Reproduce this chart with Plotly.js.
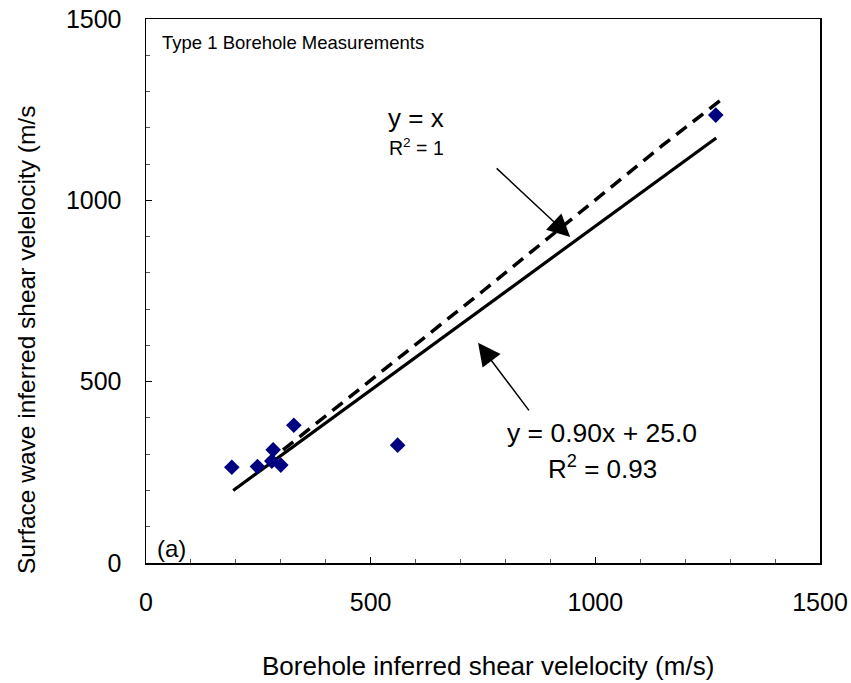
<!DOCTYPE html>
<html>
<head>
<meta charset="utf-8">
<script src="https://cdn.plot.ly/plotly-3.0.1.min.js"></script>
<style>html,body{margin:0;padding:0;background:#fff;}#chart{width:851px;height:683px;}</style>
</head>
<body>
<div id="chart"></div>
<script>
// Measured data (borehole vs surface-wave inferred shear velocity, m/s)
const boreholeVs = [191, 248, 283, 280, 300, 329, 560, 1268];
const surfaceVs  = [264, 266, 312, 281, 270, 380, 325, 1235];

// Fitted trend line y = 0.90x + 25.0 (endpoints as drawn)
const fitX = [194, 1269];
const fitY = [200, 1172];

// y = x reference line (as drawn, dashed)
const oneToOneX = [305, 560, 750, 1150, 1290];
const oneToOneY = [312, 562, 750, 1152, 1287];

const tickVals = [0, 500, 1000, 1500];
const tickText = ["0", "500", "1000", "1500"];

const fontFam = 'Liberation Sans, Arial, sans-serif';

const traces = [
  {x: oneToOneX, y: oneToOneY, mode: 'lines', type: 'scatter',
   line: {color: '#000', width: 3.5, dash: '13px,8px'}, hoverinfo: 'skip'},
  {x: fitX, y: fitY, mode: 'lines', type: 'scatter',
   line: {color: '#000', width: 3.2}, hoverinfo: 'skip'},
  {x: boreholeVs, y: surfaceVs, mode: 'markers', type: 'scatter',
   marker: {symbol: 'diamond', size: 12, color: '#000080'}}
];

const axisCommon = {
  range: [0, 1500], tickmode: 'array', tickvals: tickVals, ticktext: tickText,
  ticks: 'inside', ticklen: 6, tickwidth: 1, tickcolor: '#000',
  minor: {dtick: 100, ticks: 'inside', ticklen: 4, tickcolor: '#555', tickwidth: 1},
  showline: true, linecolor: '#000', linewidth: 1.5, mirror: true,
  showgrid: false, zeroline: false,
  tickfont: {family: fontFam, size: 25, color: '#000'}
};

const layout = {
  width: 851, height: 683,
  margin: {l: 146, r: 31, t: 19, b: 120},
  paper_bgcolor: '#fff', plot_bgcolor: '#fff',
  showlegend: false,
  font: {family: fontFam, color: '#000', size: 18},
  xaxis: Object.assign({}, axisCommon, {ticklabelstandoff: 16}),
  yaxis: Object.assign({}, axisCommon, {ticklabelstandoff: 18}),
  annotations: [
    {xref: 'paper', yref: 'paper', x: (488 - 146) / 674, y: (563 - 666) / 544, xanchor: 'center', yanchor: 'middle',
     text: 'Borehole inferred shear velelocity (m/s)', showarrow: false,
     font: {family: fontFam, size: 26, color: '#000'}},
    {xref: 'paper', yref: 'paper', x: (26 - 146) / 674, y: (563 - 340) / 544, xanchor: 'center', yanchor: 'middle',
     text: 'Surface wave inferred shear velelocity (m/s', textangle: -90, showarrow: false,
     font: {family: fontFam, size: 24.5, color: '#000'}},
    {xref: 'x', yref: 'y', x: 31, y: 1434, xanchor: 'left', yanchor: 'middle',
     text: 'Type 1 Borehole Measurements', showarrow: false, font: {family: fontFam, size: 18.5, color: '#000'}},
    {xref: 'x', yref: 'y', x: 20, y: 39, xanchor: 'left', yanchor: 'middle',
     text: '(a)', showarrow: false, font: {family: fontFam, size: 24, color: '#000'}},
    {xref: 'x', yref: 'y', x: 601, y: 1227, xanchor: 'center', yanchor: 'middle',
     text: 'y = x', showarrow: false, font: {family: fontFam, size: 26, color: '#000'}},
    {xref: 'x', yref: 'y', x: 601, y: 1147, xanchor: 'center', yanchor: 'middle',
     text: 'R<sup>2</sup> = 1', showarrow: false, font: {family: fontFam, size: 19.5, color: '#000'}},
    {xref: 'x', yref: 'y', x: 1015, y: 358, xanchor: 'center', yanchor: 'middle',
     text: 'y = 0.90x + 25.0', showarrow: false, font: {family: fontFam, size: 26.5, color: '#000'}},
    {xref: 'x', yref: 'y', x: 1015, y: 262, xanchor: 'center', yanchor: 'middle',
     text: 'R<sup>2</sup> = 0.93', showarrow: false, font: {family: fontFam, size: 26, color: '#000'}},
    {xref: 'x', yref: 'y', x: 944, y: 899, text: '', showarrow: true,
     axref: 'pixel', ayref: 'pixel', ax: -75, ay: -70,
     arrowhead: 2, arrowsize: 3, arrowwidth: 1.5, arrowcolor: '#000'},
    {xref: 'x', yref: 'y', x: 739, y: 607, text: '', showarrow: true,
     axref: 'pixel', ayref: 'pixel', ax: 52, ay: 69,
     arrowhead: 2, arrowsize: 3, arrowwidth: 1.5, arrowcolor: '#000'}
  ]
};

Plotly.newPlot('chart', traces, layout, {displayModeBar: false, staticPlot: true});
</script>
</body>
</html>
